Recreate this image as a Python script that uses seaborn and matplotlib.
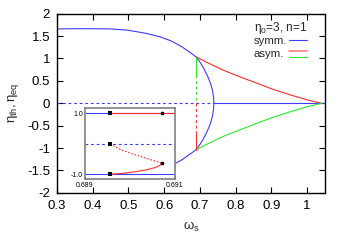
import matplotlib
matplotlib.use("Agg")
import matplotlib.pyplot as plt
import seaborn as sns

# symmetric solution, upper branch (lower branch is its mirror)
symm_omega = [0.30, 0.35, 0.40, 0.45, 0.50, 0.55, 0.59, 0.62, 0.65, 0.68, 0.69,
              0.70, 0.71, 0.72, 0.725, 0.73, 0.735, 0.738, 0.739]
symm_eta = [1.66, 1.665, 1.665, 1.66, 1.63, 1.56, 1.48, 1.39, 1.26, 1.09, 1.03,
            0.92, 0.79, 0.63, 0.54, 0.435, 0.29, 0.145, 0.0]
# lower branch only shows from behind the inset onwards
lower_start = 3
symm_zero_dashed = [0.30, 0.739]
symm_zero_solid = [0.739, 1.05]

# asymmetric solution (eta_th red, eta_eq green)
asym_omega = [0.689, 0.719, 0.765, 0.812, 0.859, 0.905, 0.952, 0.999, 1.041]
asym_eta = [1.04, 0.915, 0.74, 0.59, 0.45, 0.31, 0.19, 0.08, 0.0]

# vertical jump at the fold
fold_omega = [0.689, 0.689]
fold_green_solid = [1.04, 0.64]
fold_green_dashed = [0.64, 0.0]
fold_red_dashed = [0.0, -0.64]
fold_red_solid = [-0.64, -1.04]

# inset: zoom around the fold
inset_xlim = (0.689, 0.691)
inset_blue_solid = [1.0, -1.0]
inset_blue_dashed = [0.0]
inset_red_top_x = [0.68956, 0.691]
inset_red_top_y = [1.03, 1.03]
inset_red_dashed_x = [0.68956, 0.68978, 0.69007, 0.69037, 0.69071]
inset_red_dashed_y = [0.0, -0.18, -0.34, -0.475, -0.64]
inset_red_solid_x = [0.69071, 0.69066, 0.69055, 0.69037, 0.69010, 0.68985, 0.68956]
inset_red_solid_y = [-0.64, -0.71, -0.78, -0.85, -0.92, -0.965, -1.0]
inset_sq_x = [0.68956, 0.68956, 0.68956]
inset_sq_y = [1.0, 0.0, -1.0]
inset_dot_x = [0.69071, 0.69071]
inset_dot_y = [1.03, -0.64]

BLUE = "#3c3cff"
RED = "#ff2a2a"
GREEN = "#2ee82e"

sns.set_theme(style="ticks")
plt.rcParams["font.family"] = ["Liberation Sans", "DejaVu Sans"]
plt.rcParams["mathtext.fontset"] = "custom"
plt.rcParams["mathtext.rm"] = "Liberation Sans"
plt.rcParams["mathtext.it"] = "Liberation Sans"


def line(ax, x, y, color, ls="-", lw=0.8):
    sns.lineplot(x=x, y=y, ax=ax, sort=False, estimator=None, color=color,
                 linestyle=ls, linewidth=lw)


fig = plt.figure(figsize=(3.46, 2.42), dpi=100)
ax = fig.add_axes([0.1647, 0.2029, 0.7746, 0.7405])

line(ax, symm_omega, symm_eta, BLUE)
line(ax, symm_omega[lower_start:], [-v for v in symm_eta[lower_start:]], BLUE)
line(ax, symm_zero_dashed, [0, 0], BLUE, ls=(0, (2.5, 2.5)))
line(ax, symm_zero_solid, [0, 0], BLUE)

line(ax, asym_omega, asym_eta, RED)
line(ax, asym_omega, [-v for v in asym_eta], GREEN)

line(ax, fold_omega, fold_green_solid, GREEN)
line(ax, fold_omega, fold_green_dashed, GREEN, ls=(0, (2.5, 2.5)))
line(ax, fold_omega, fold_red_dashed, RED, ls=(0, (2.5, 2.5)))
line(ax, fold_omega, fold_red_solid, RED)

ax.set_xlim(0.3, 1.05)
ax.set_ylim(-2, 2)
ax.set_xticks([0.3, 0.4, 0.5, 0.6, 0.7, 0.8, 0.9, 1.0])
ax.set_xticklabels(["0.3", "0.4", "0.5", "0.6", "0.7", "0.8", "0.9", "1"])
ax.set_yticks([-2, -1.5, -1, -0.5, 0, 0.5, 1, 1.5, 2])
ax.set_yticklabels(["-2", "-1.5", "-1", "-0.5", "0", "0.5", "1", "1.5", "2"])
ax.tick_params(direction="in", top=True, right=True, length=4, width=0.8,
               labelsize=9.5, pad=5, colors="black")
for s in ax.spines.values():
    s.set_linewidth(1.0)
    s.set_color("black")
ax.set_xlabel(r"$\omega_{\rm s}$", fontsize=9.5, labelpad=6)
ax.set_ylabel(r"$\eta_{\rm th}, \eta_{\rm eq}$", fontsize=9.5, labelpad=4)

# key, gnuplot style
ax.text(0.735, 0.922, r"$\eta_0$=3, n=1", transform=ax.transAxes,
        fontsize=8.6, va="center", ha="left")
ax.text(0.735, 0.849, "symm.", transform=ax.transAxes, fontsize=8.2,
        va="center", ha="left")
ax.text(0.735, 0.775, "asym.", transform=ax.transAxes, fontsize=8.2,
        va="center", ha="left")
ax.plot([0.867, 0.934], [0.853, 0.853], color=BLUE, lw=0.8,
        transform=ax.transAxes)
ax.plot([0.867, 0.934], [0.790, 0.790], color=RED, lw=1.2, alpha=0.6,
        transform=ax.transAxes)
ax.plot([0.867, 0.934], [0.760, 0.760], color=GREEN, lw=0.8,
        transform=ax.transAxes)

# inset
ins = fig.add_axes([0.2457, 0.2583, 0.2601, 0.2942])
ins.set_facecolor("white")
for lvl in inset_blue_solid:
    line(ins, list(inset_xlim), [lvl, lvl], BLUE)
for lvl in inset_blue_dashed:
    line(ins, list(inset_xlim), [lvl, lvl], BLUE, ls=(0, (2.5, 2.5)))
line(ins, inset_red_top_x, inset_red_top_y, RED)
line(ins, inset_red_dashed_x, inset_red_dashed_y, RED, ls=(0, (1.5, 1.5)))
line(ins, inset_red_solid_x, inset_red_solid_y, RED)
sns.scatterplot(x=inset_sq_x, y=inset_sq_y, ax=ins, marker="s", s=5,
                color="black", linewidth=0, zorder=5)
sns.scatterplot(x=inset_dot_x, y=inset_dot_y, ax=ins, marker="o", s=7,
                color="black", linewidth=0, zorder=5)
ins.set_xlim(*inset_xlim)
ins.set_ylim(-1.17, 1.17)
ins.set_xticks(list(inset_xlim))
ins.set_xticklabels(["0.689", "0.691"])
ins.set_yticks([-1.0, 1.0])
ins.set_yticklabels(["-1.0", "1.0"])
ins.tick_params(direction="in", length=2, width=0.5, labelsize=5, pad=1.5,
                colors="black")
for s in ins.spines.values():
    s.set_linewidth(1.2)
    s.set_color("#808080")

fig.savefig("out.png", dpi=100)
